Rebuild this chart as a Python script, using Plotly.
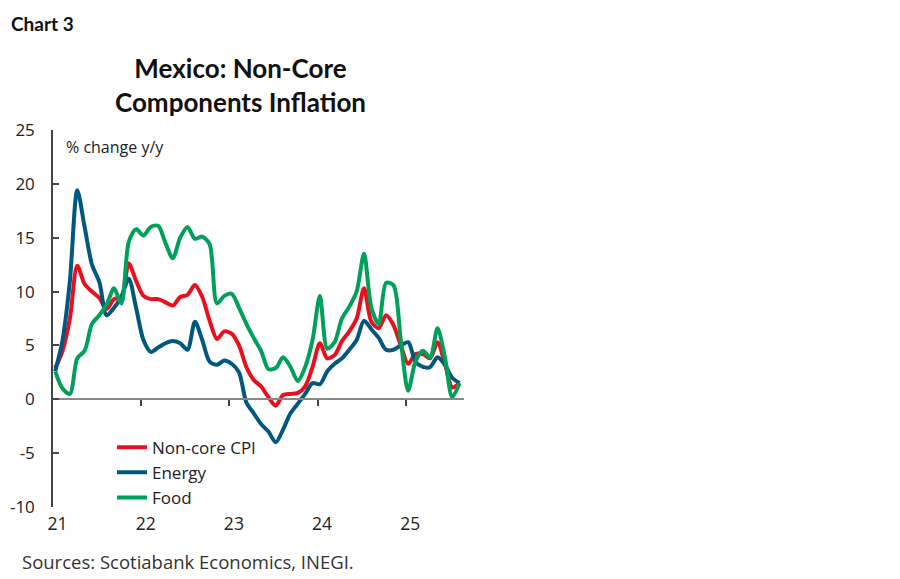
import plotly.graph_objects as go
import pandas as pd

months = pd.date_range("2021-01-01", periods=56, freq="MS")
month_idx = list(range(len(months)))

noncore_cpi = [2.9, 4.5, 7.5, 12.4, 10.7, 10.0, 9.4, 8.4, 9.3, 9.5, 12.6, 11.0,
               9.6, 9.3, 9.3, 9.0, 8.7, 9.5, 9.7, 10.6, 9.5, 7.3, 5.6, 6.3,
               6.1, 5.0, 3.0, 1.8, 1.2, 0.2, -0.6, 0.4, 0.5, 0.6, 1.2, 3.0,
               5.2, 3.8, 4.1, 5.4, 6.3, 7.5, 10.3, 7.2, 6.6, 7.8, 6.9, 5.0,
               3.3, 4.2, 4.2, 3.8, 5.3, 3.3, 1.1, 1.5]
energy = [2.6, 5.5, 11.0, 19.4, 16.0, 12.5, 10.9, 7.8, 8.5, 9.5, 11.2, 8.5,
          5.5, 4.4, 4.8, 5.2, 5.4, 5.2, 4.6, 7.2, 5.5, 3.5, 3.2, 3.6,
          3.3, 2.5, -0.3, -1.3, -2.3, -3.0, -4.0, -2.8, -1.3, -0.4, 0.5, 1.5,
          1.4, 2.6, 3.3, 3.8, 4.6, 5.5, 7.3, 6.5, 5.7, 4.6, 4.6, 5.0,
          5.3, 3.5, 3.0, 3.0, 3.9, 3.2, 2.0, 1.5]
food = [2.6, 1.0, 0.5, 3.8, 4.5, 7.0, 7.8, 8.8, 10.3, 8.9, 14.6, 15.8,
        15.2, 16.0, 16.1, 14.5, 13.1, 15.0, 16.0, 14.9, 15.1, 14.4, 8.9, 9.6,
        9.8, 8.5, 7.0, 5.7, 4.5, 2.8, 2.9, 3.9, 3.0, 1.7, 3.0, 5.5,
        9.6, 4.7, 5.3, 7.5, 8.6, 10.0, 13.5, 8.5, 7.0, 10.8, 10.6, 5.5,
        0.8, 3.5, 4.5, 3.9, 6.6, 3.9, 0.2, 1.5]

series_names = ["Non-core CPI", "Energy", "Food"]
series_colors = ["#E8101E", "#00587F", "#00A05A"]

year_label_vals = [0.3, 12.3, 24.3, 36.3, 48.3]
year_labels = ["21", "22", "23", "24", "25"]
year_tick_vals = [11.7, 23.7, 35.7, 47.7]
y_ticks = [-10, -5, 0, 5, 10, 15, 20, 25]
y_tick_text = [str(v) for v in y_ticks]

BODY = "Open Sans"
TITLE = "Lato"

fig = go.Figure()
for name, vals, col in zip(series_names, [noncore_cpi, energy, food], series_colors):
    fig.add_trace(go.Scatter(
        x=month_idx, y=vals, name=name, mode="lines",
        line=dict(color=col, width=4, shape="spline", smoothing=0.8),
    ))

# hidden trace to drive the zero-line axis with ticks
fig.add_trace(go.Scatter(x=[month_idx[0], month_idx[-1]], y=[0, 0], xaxis="x2",
                         mode="lines", line=dict(width=0), showlegend=False,
                         hoverinfo="skip"))

fig.update_layout(
    width=900, height=579,
    paper_bgcolor="white", plot_bgcolor="white",
    margin=dict(l=45, r=444, t=122, b=80, autoexpand=False),
    font=dict(family=BODY, size=16, color="#333333"),
    xaxis=dict(range=[-0.3, 55.6], tickvals=year_label_vals, ticktext=year_labels,
               showgrid=False, zeroline=False, showline=False, ticks="",
               automargin=False, ticklabelstandoff=4,
               tickfont=dict(size=17.5, color="#222222")),
    xaxis2=dict(range=[-0.3, 55.6], overlaying="x", anchor="free",
                position=10 / 35, showline=True, linecolor="#888888", linewidth=2,
                ticks="outside", ticklen=6, tickwidth=1.5, tickcolor="#444444",
                tickvals=year_tick_vals, showticklabels=False, showgrid=False,
                zeroline=False, automargin=False),
    yaxis=dict(range=[-10, 25], tickvals=y_ticks, ticktext=y_tick_text,
               showgrid=False, zeroline=False, automargin=False,
               showline=True, linecolor="#444444", linewidth=1.5,
               ticks="inside", ticklen=6, tickwidth=1.5, tickcolor="#444444",
               ticklabelstandoff=13, tickfont=dict(size=17, color="#222222")),
    legend=dict(x=0.1435, y=0.205, xanchor="left", yanchor="top",
                bgcolor="rgba(0,0,0,0)", font=dict(size=17, color="#222222"),
                tracegroupgap=0, itemwidth=30),
    showlegend=True,
    annotations=[
        dict(text="<b>Chart 3</b>", xref="paper", yref="paper", x=-44 / 411, y=1 + 107 / 377,
             xanchor="left", yanchor="middle", showarrow=False,
             font=dict(size=19, color="#111111", family=TITLE)),
        dict(text="<b>Mexico: Non-Core<br>Components Inflation</b>", xref="paper", yref="paper",
             x=(240 - 53) / 411, y=1 + 45 / 377, xanchor="center", yanchor="middle",
             showarrow=False, font=dict(size=26, color="#111111", family=TITLE)),
        dict(text="% change y/y", xref="paper", yref="paper", x=(64 - 53) / 411,
             y=1 - 17 / 377, xanchor="left", yanchor="middle", showarrow=False,
             font=dict(size=16, color="#222222")),
        dict(text="Sources: Scotiabank Economics, INEGI.", xref="paper", yref="paper",
             x=(20 - 53) / 411, y=-(561 - 507) / 377, xanchor="left", yanchor="middle",
             showarrow=False, font=dict(size=18.5, color="#333333")),
    ],
)

fig.write_html("out.html")
